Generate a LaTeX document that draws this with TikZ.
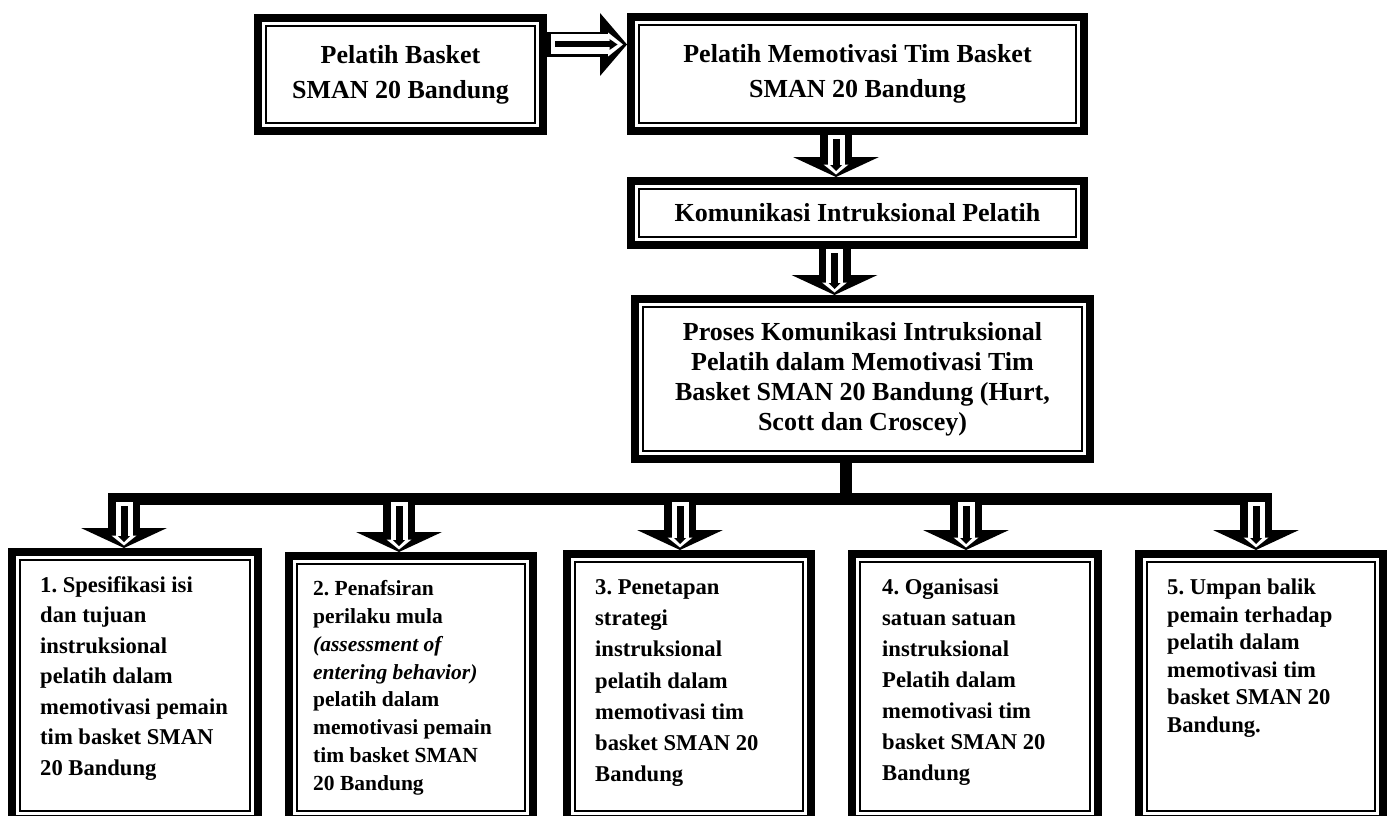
\documentclass[tikz,border=0pt]{standalone}
\usepackage{fontspec}
\setmainfont{Liberation Serif}
\usetikzlibrary{arrows.meta,calc}
\frenchspacing

\begin{document}
\begin{tikzpicture}[x=1pt,y=-1pt,
		topbox/.style={draw,line width=8pt,fill=white,inner sep=0pt,align=center,
			font=\fontsize{26}{35}\selectfont\bfseries},
		lowbox/.style={draw,line width=8pt,fill=white,inner sep=0pt,
			minimum width=246pt,minimum height=267pt},
		lowtext/.style={anchor=north west,inner sep=0pt,align=left,
			font=\fontsize{22.6}{30.5}\selectfont\bfseries},
		vhollow/.style={line width=32pt,-{Triangle[width=86pt,length=20pt,line width=0pt]},
			postaction={draw=white,line width=17pt,shorten <=3pt,shorten >=2.5pt,
				-{Triangle[width=25pt,length=10pt,line width=0pt]}},
			postaction={draw=black,line width=7pt,shorten <=7pt,shorten >=6pt,
				-{Triangle[width=12pt,length=6pt,line width=0pt]}}},
		hhollow/.style={line width=25pt,-{Triangle[width=63pt,length=27pt,line width=0pt]},
			postaction={draw=white,line width=20pt,shorten <=6pt,shorten >=4pt,
				-{Triangle[width=24pt,length=15pt,line width=0pt]}},
			postaction={draw=black,line width=6pt,shorten <=10pt,shorten >=9.5pt,
				-{Triangle[width=11pt,length=8pt,line width=0pt]}}}]
	\useasboundingbox (0,0) rectangle (1393,816);
	\clip (0,0) rectangle (1393,816);
	\fill[white] (0,0) rectangle (1393,816);

	% Kotak atas
	\node[topbox,minimum width=285pt,minimum height=113pt] (pb) at (400.5,74.5) {Pelatih Basket\\SMAN 20 Bandung};
	\node[topbox,minimum width=453pt,minimum height=114pt] (pm) at (857.5,74) {Pelatih Memotivasi Tim Basket\\SMAN 20 Bandung};
	\node[topbox,minimum width=453pt,minimum height=64pt] (ki) at (857.5,213) {Komunikasi Intruksional Pelatih};
	\node[topbox,minimum width=455pt,minimum height=160pt,font=\fontsize{26}{30}\selectfont\bfseries] (pk) at (862.5,379)
		{Proses Komunikasi Intruksional\\Pelatih dalam Memotivasi Tim\\Basket SMAN 20 Bandung (Hurt,\\Scott dan Croscey)};

	% Kotak bawah
	\node[lowbox,minimum width=246pt,minimum height=267pt] (s1) at (135,685.5) {};
	\node[lowbox,minimum width=244pt,minimum height=263pt] (s2) at (411,687.5) {};
	\node[lowbox,minimum width=244pt,minimum height=265pt] (s3) at (689,686.5) {};
	\node[lowbox,minimum width=246pt,minimum height=265pt] (s4) at (975,686.5) {};
	\node[lowbox,minimum width=244pt,minimum height=265pt] (s5) at (1261,686.5) {};

	% Garis tipis di dalam kotak
	\foreach \b in {pb,pm,ki,pk,s1,s2,s3,s4,s5}
		\draw[line width=1.6pt] ([xshift=12pt,yshift=-12pt]\b.north west) rectangle ([xshift=-12pt,yshift=12pt]\b.south east);

	\node[lowtext] (t1) at ([xshift=32pt,yshift=-28pt]s1.north west)
		{1. Spesifikasi isi\\dan tujuan\\instruksional\\pelatih dalam\\memotivasi pemain\\tim basket SMAN\\20 Bandung};
	\node[lowtext,font=\fontsize{21.5}{27.9}\selectfont\bfseries] (t2) at ([xshift=28pt,yshift=-28pt]s2.north west)
		{2. Penafsiran\\perilaku mula\\\textit{(assessment of}\\\textit{entering behavior)}\\pelatih dalam\\memotivasi pemain\\tim basket SMAN\\20 Bandung};
	\node[lowtext,font=\fontsize{22.6}{31.3}\selectfont\bfseries] (t3) at ([xshift=32pt,yshift=-29pt]s3.north west)
		{3. Penetapan\\strategi\\instruksional\\pelatih dalam\\memotivasi tim\\basket SMAN 20\\Bandung};
	\node[lowtext,font=\fontsize{22.6}{31}\selectfont\bfseries] (t4) at ([xshift=34pt,yshift=-29pt]s4.north west)
		{4. Oganisasi\\satuan satuan\\instruksional\\Pelatih dalam\\memotivasi tim\\basket SMAN 20\\Bandung};
	\node[lowtext,font=\fontsize{22.6}{27.5}\selectfont\bfseries] (t5) at ([xshift=32pt,yshift=-29pt]s5.north west)
		{5. Umpan balik\\pemain terhadap\\pelatih dalam\\memotivasi tim\\basket SMAN 20\\Bandung.};

	% Panah
	\draw[hhollow] ([xshift=-2pt,yshift=30pt]pb.east) -- ([yshift=30pt]pb.east -| pm.west);
	\draw[vhollow] ([xshift=-21.5pt,yshift=3pt]pm.south) -- ([xshift=-21.5pt]pm.south |- ki.north);
	\draw[vhollow] ([xshift=-23pt,yshift=3pt]ki.south) -- ([xshift=-23pt]ki.south |- pk.north);

	% Garis cabang
	\coordinate (bus) at ([xshift=-16.5pt,yshift=-36pt]pk.south);
	\draw[line width=12pt] ([xshift=-16.5pt,yshift=2pt]pk.south) -- (bus);
	\foreach \i/\dx in {1/-11,2/-12,3/-9,4/-9,5/-5}
		\coordinate (a\i) at ([xshift=\dx pt]s\i.north |- bus);
	\draw[line width=12pt] ([xshift=-16pt]a1) -- ([xshift=16pt]a5);
	\foreach \i/\dx in {1/-11,2/-12,3/-9,4/-9,5/-5}
		\draw[vhollow] (a\i) -- ([xshift=\dx pt]s\i.north);

\end{tikzpicture}
\end{document}
